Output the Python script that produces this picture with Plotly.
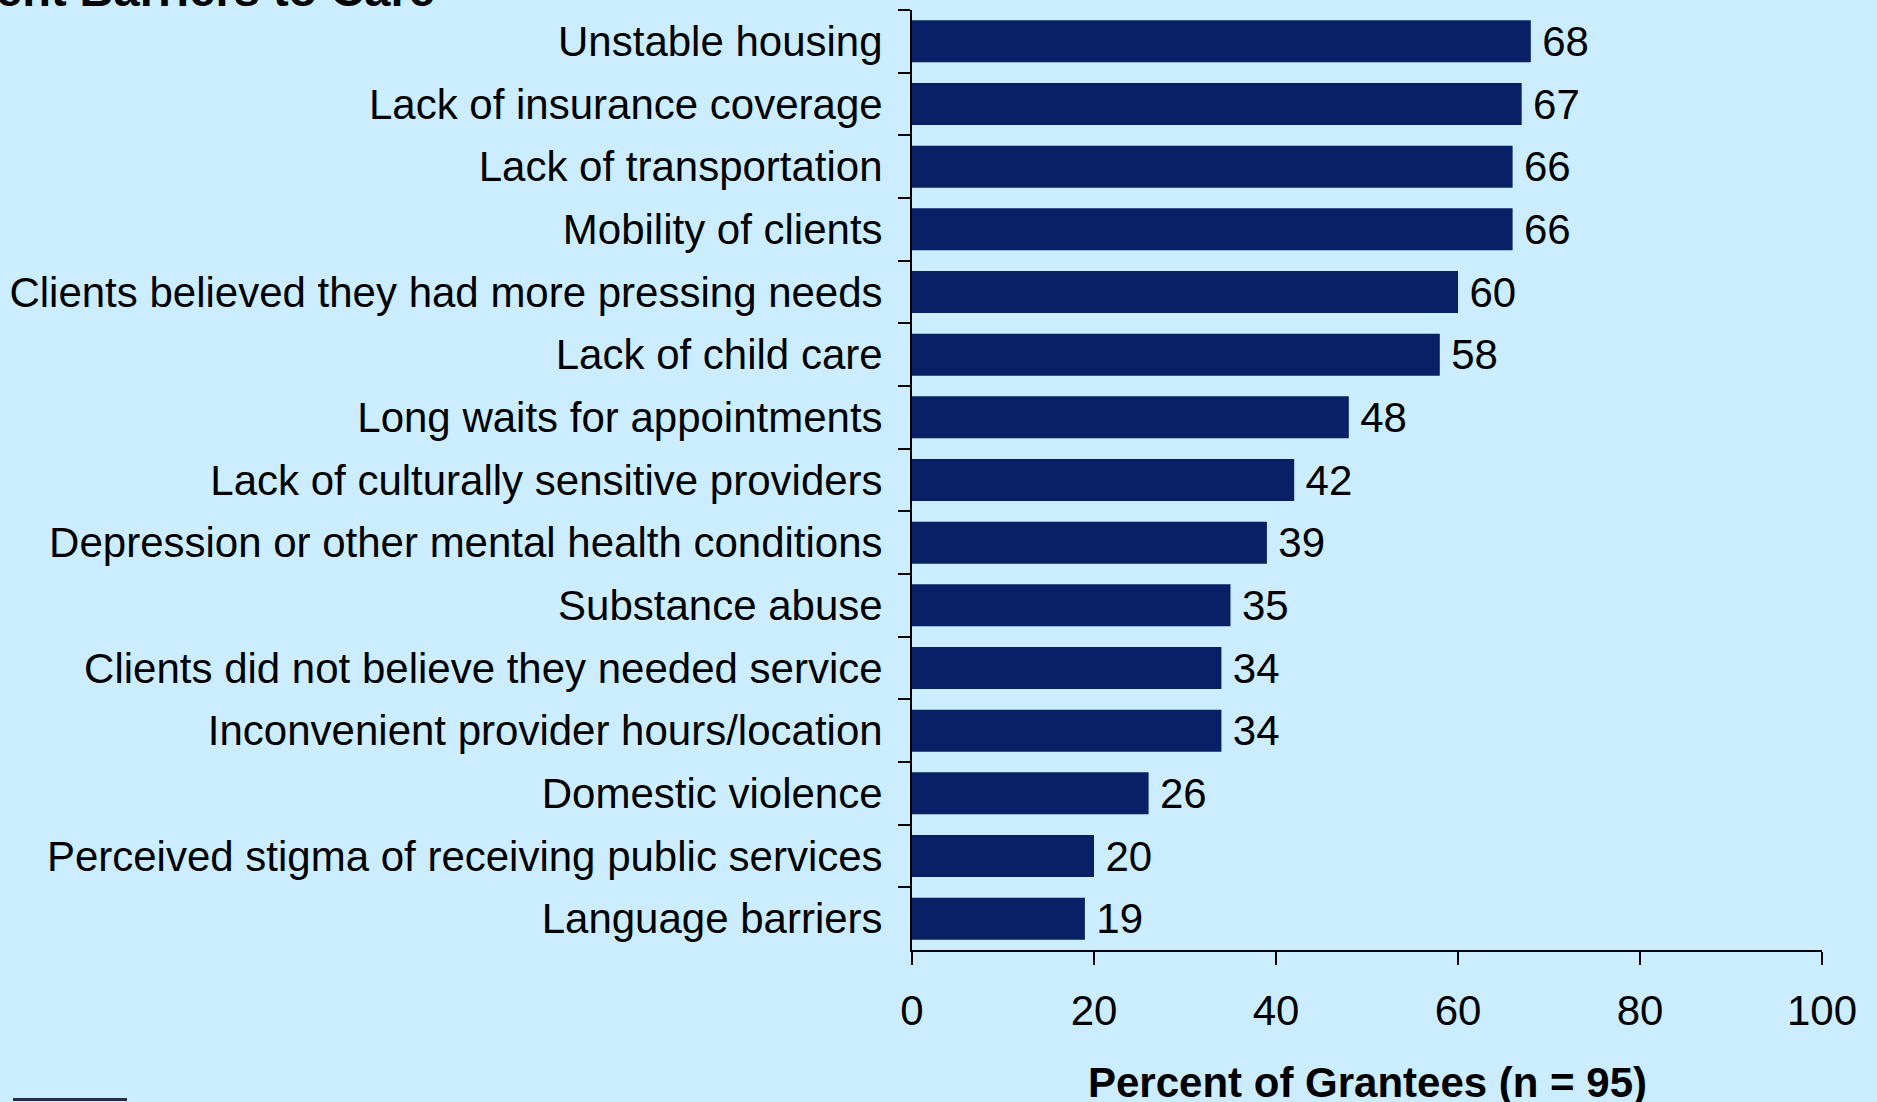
import plotly.graph_objects as go

categories = [
    "Unstable housing",
    "Lack of insurance coverage",
    "Lack of transportation",
    "Mobility of clients",
    "Clients believed they had more pressing needs",
    "Lack of child care",
    "Long waits for appointments",
    "Lack of culturally sensitive providers",
    "Depression or other mental health conditions",
    "Substance abuse",
    "Clients did not believe they needed service",
    "Inconvenient provider hours/location",
    "Domestic violence",
    "Perceived stigma of receiving public services",
    "Language barriers",
]
values = [68, 67, 66, 66, 60, 58, 48, 42, 39, 35, 34, 34, 26, 20, 19]
x_ticks = [0, 20, 40, 60, 80, 100]
title_text = "Client Barriers to Care"
x_title = "Percent of Grantees (n = 95)"

BG = "#CCECFF"
BAR = "#091F66"
FONT = "Liberation Sans, Arial, sans-serif"

TOP, BOTTOM = 10, 950
PLOT_H = BOTTOM - TOP

fig = go.Figure(
    go.Bar(
        x=values,
        y=categories,
        orientation="h",
        marker=dict(color=BAR, line=dict(width=0)),
        text=values,
        texttemplate="\u2009%{x}",
        textposition="outside",
        constraintext="none",
        textfont=dict(family=FONT, size=42, color="#000000"),
        cliponaxis=False,
    )
)

fig.update_layout(
    width=1877,
    height=1102,
    margin=dict(l=912, r=55, t=TOP, b=1102 - BOTTOM, autoexpand=False),
    paper_bgcolor=BG,
    plot_bgcolor=BG,
    bargap=0.33,
    showlegend=False,
    font=dict(family=FONT, size=42, color="#000000"),
)

fig.update_yaxes(
    type="category",
    autorange="reversed",
    automargin=False,
    showline=True,
    linecolor="#000000",
    linewidth=2,
    ticks="outside",
    tickson="boundaries",
    ticklen=12,
    tickwidth=2,
    tickcolor="#000000",
    showgrid=False,
    ticklabelstandoff=19,
    tickfont=dict(family=FONT, size=42, color="#000000"),
)

fig.update_xaxes(
    range=[0, 100],
    automargin=False,
    tickvals=x_ticks,
    ticktext=[str(t) for t in x_ticks],
    showline=True,
    linecolor="#000000",
    linewidth=2,
    ticks="outside",
    ticklen=13,
    tickwidth=2,
    tickcolor="#000000",
    showgrid=False,
    zeroline=False,
    ticklabelstandoff=10,
    tickfont=dict(family=FONT, size=42, color="#000000"),
)

fig.add_annotation(
    text="<b>" + x_title + "</b>",
    xref="paper",
    yref="paper",
    x=0.5,
    y=(BOTTOM - 1082) / PLOT_H,
    xanchor="center",
    yanchor="middle",
    showarrow=False,
    font=dict(family=FONT, size=42, color="#000000"),
)

fig.add_annotation(
    text="<b>" + title_text + "</b>",
    xref="paper",
    yref="paper",
    x=(437 - 912) / 910,
    y=1,
    xanchor="right",
    yanchor="bottom",
    yshift=-8,
    showarrow=False,
    font=dict(family=FONT, size=47, color="#000000"),
)

fig.add_shape(
    type="rect",
    xref="paper",
    yref="paper",
    x0=(13 - 912) / 910,
    x1=(127 - 912) / 910,
    y0=(BOTTOM - 1101) / PLOT_H,
    y1=(BOTTOM - 1098) / PLOT_H,
    fillcolor="#2a2a4a",
    line=dict(width=0),
)

fig.write_html(
    "out.html",
    config={"displayModeBar": False},
    post_script="document.body.style.margin='0';document.body.style.overflow='hidden';",
)
